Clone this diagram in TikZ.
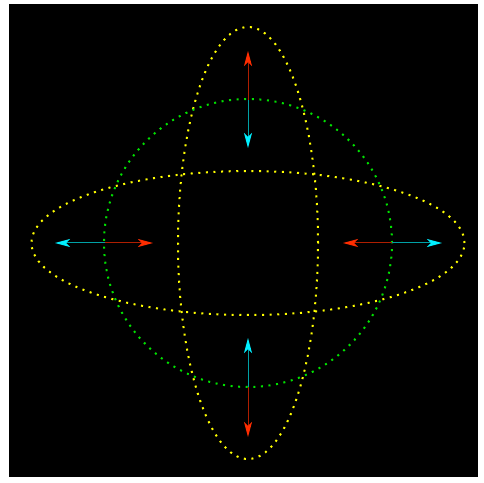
\documentclass[tikz,border=0pt]{standalone}
\usetikzlibrary{arrows.meta}
\definecolor{yel}{RGB}{255,255,0}
\definecolor{grn}{RGB}{0,225,0}
\definecolor{redtip}{RGB}{255,45,0}
\definecolor{redshaft}{RGB}{175,30,0}
\definecolor{cyantip}{RGB}{0,240,255}
\definecolor{cyanshaft}{RGB}{0,160,165}
\tikzset{
  dotline/.style={line width=2pt, dash pattern=on 2pt off 5.6pt},
  redarrow/.style={draw=redshaft, line width=1pt, -{Stealth[length=15pt,width=8pt,inset=4pt,color=redtip]}},
  cyanarrow/.style={draw=cyanshaft, line width=1pt, -{Stealth[length=15pt,width=8pt,inset=4pt,color=cyantip]}}
}
\begin{document}
\begin{tikzpicture}[x=1pt,y=1pt]
\useasboundingbox (0,0) rectangle (484,482);
\fill[white] (0,0) rectangle (484,482);
\fill[black] (9,5) rectangle (478,478);
\coordinate (c) at (248,239);
\draw[yel, dotline] (c) ellipse [x radius=216.5, y radius=72];
\draw[yel, dotline] (c) ellipse [x radius=70, y radius=216];
\draw[grn, dotline] (c) circle [radius=144];
% base points on the circle
\coordinate (top) at (248,382);
\coordinate (bot) at (248,95);
\coordinate (lft) at (105,239);
\coordinate (rgt) at (392,239);
% tips
\coordinate (topR) at (248,431);
\coordinate (topC) at (248,334);
\coordinate (botC) at (248,144);
\coordinate (botR) at (248,45);
\coordinate (lftC) at (55,239);
\coordinate (lftR) at (153,239);
\coordinate (rgtR) at (343,239);
\coordinate (rgtC) at (442,239);
\draw[redarrow] (top) -- (topR);
\draw[cyanarrow] (top) -- (topC);
\draw[cyanarrow] (bot) -- (botC);
\draw[redarrow] (bot) -- (botR);
\draw[cyanarrow] (lft) -- (lftC);
\draw[redarrow] (lft) -- (lftR);
\draw[redarrow] (rgt) -- (rgtR);
\draw[cyanarrow] (rgt) -- (rgtC);
\end{tikzpicture}
\end{document}
